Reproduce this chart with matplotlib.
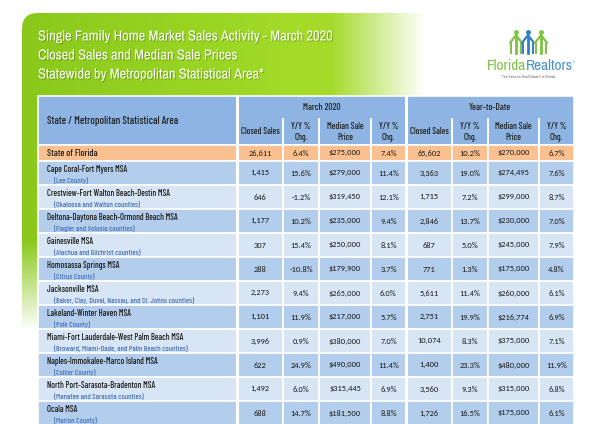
import numpy as np
import matplotlib
matplotlib.use("Agg")
import matplotlib.pyplot as plt
from matplotlib.patches import Rectangle, FancyBboxPatch
import matplotlib.patheffects as pe

# ---- data ----
areas = ["State of Florida", "Cape Coral-Fort Myers MSA",
         "Crestview-Fort Walton Beach-Destin MSA",
         "Deltona-Daytona Beach-Ormond Beach MSA", "Gainesville MSA",
         "Homosassa Springs MSA", "Jacksonville MSA",
         "Lakeland-Winter Haven MSA",
         "Miami-Fort Lauderdale-West Palm Beach MSA",
         "Naples-Immokalee-Marco Island MSA",
         "North Port-Sarasota-Bradenton MSA", "Ocala MSA"]
counties = ["", "(Lee County)", "(Okaloosa and Walton counties)",
            "(Flagler and Volusia counties)", "(Alachua and Gilchrist counties)",
            "(Citrus County)",
            "(Baker, Clay, Duval, Nassau, and St. Johns counties)",
            "(Polk County)", "(Broward, Miami-Dade, and Palm Beach counties)",
            "(Collier County)", "(Manatee and Sarasota counties)",
            "(Marion County)"]
mar_sales = [26611, 1415, 646, 1177, 307, 288, 2273, 1101, 3996, 622, 1492, 688]
mar_sales_chg = [6.4, 15.6, -1.2, 10.2, 15.4, -10.8, 9.4, 11.9, 0.9, 24.9, 6.0, 14.7]
mar_price = [275000, 279000, 319450, 235000, 250000, 179900, 265000, 217000,
             380000, 490000, 315445, 181500]
mar_price_chg = [7.4, 11.4, 12.1, 9.4, 8.1, 3.7, 6.0, 5.7, 7.0, 11.4, 6.9, 8.8]
ytd_sales = [65602, 3363, 1715, 2846, 687, 771, 5611, 2751, 10074, 1400, 3560, 1726]
ytd_sales_chg = [10.2, 19.0, 7.2, 13.7, 5.0, 1.3, 11.4, 19.9, 8.3, 23.3, 9.3, 16.5]
ytd_price = [270000, 274495, 299000, 230000, 245000, 175000, 260000, 216774,
             375000, 480000, 315000, 175000]
ytd_price_chg = [6.7, 7.6, 8.7, 7.0, 7.9, 4.8, 6.1, 6.9, 7.1, 11.9, 6.8, 6.1]

title_lines = ["Single Family Home Market Sales Activity - March 2020",
               "Closed Sales and Median Sale Prices",
               "Statewide by Metropolitan Statistical Area*"]
group_labels = ["March 2020", "Year-to-Date"]
sub_labels = ["Closed Sales", "Y/Y %\nChg.", "Median Sale\nPrice", "Y/Y %\nChg."]

NARROW = ["Archivo Narrow", "DejaVu Sans"]
COND = ["Barlow Condensed", "Archivo Narrow", "DejaVu Sans"]
NUMF = ["Carlito", "Lato", "DejaVu Sans"]

HEAD = "#8db4e2"
DARK = "#b3cdec"
LIGHT = "#d8e5f4"
ORANGE = "#fbc08f"

fig = plt.figure(figsize=(6, 4.24), dpi=100)
ax = fig.add_axes([0, 0, 1, 1])
ax.axis("off")
ax.set_xlim(0, 600)
ax.set_ylim(424, 0)
renderer = fig.canvas.get_renderer()


def fit_size(sample, width, family, **kw):
    # font size that makes `sample` about `width` pixels wide
    probe = ax.text(0, 0, sample, fontsize=10, family=family, **kw)
    w = probe.get_window_extent(renderer).width
    probe.remove()
    return 10 * width / w


fs_title = fit_size(title_lines[0], 296, NARROW)
fs_name = fit_size("Crestview-Fort Walton Beach-Destin MSA", 123, COND, weight=500)
fs_county = fit_size("(Baker, Clay, Duval, Nassau, and St. Johns counties)", 139,
                     COND, weight=500)
fs_head = fit_size("State / Metropolitan Statistical Area", 131, COND, weight=500)
fs_group = fit_size("Year-to-Date", 42, COND, weight=500)
fs_sub = fit_size("Closed Sales", 39, COND, weight=500)
fs_num = fit_size("$275,000", 32, NUMF)

# ---- green background panel, fades right and down ----
W, H = 600, 424
xs = np.arange(W)
ys = np.arange(H)
hfade = np.clip((425 - xs) / 95.0, 0, 1)
vfade = np.clip((330 - ys) / 90.0, 0, 1)
alpha = np.outer(vfade, hfade)
c1 = np.array([0.53, 0.78, 0.10])
c2 = np.array([0.64, 0.86, 0.16])
t = np.clip(xs / 300.0, 0, 1)[None, :, None]
rgb = c1 * (1 - t) + c2 * t
img = np.zeros((H, W, 4))
img[..., :3] = rgb
img[..., 3] = alpha
clip = FancyBboxPatch((22, 13), 620, 460, boxstyle="round,pad=0,rounding_size=16",
                      transform=ax.transData, facecolor="none", edgecolor="none")
ax.add_patch(clip)
im = ax.imshow(img, extent=(0, W, H, 0), zorder=0, interpolation="bilinear")
im.set_clip_path(clip)
ax.set_xlim(0, 600)
ax.set_ylim(424, 0)

# ---- title ----
for i, line in enumerate(title_lines):
    ax.text(38, 36.5 + i * 19, line, color="white", fontsize=fs_title,
            family=NARROW, va="center", ha="left", zorder=5,
            path_effects=[pe.withSimplePatchShadow(offset=(0.7, -0.7),
                                                   shadow_rgbFace="#3d6b00",
                                                   alpha=0.45)])

# ---- logo ----
t1 = ax.text(487, 66, "Florida", color="#7dc242", fontsize=11, family=NARROW,
             va="center", ha="left", zorder=5)
bb = t1.get_window_extent(renderer).transformed(ax.transData.inverted())
x_end = max(bb.x0, bb.x1)
ax.text(x_end, 66, "Realtors", color="#4a8fcf", fontsize=11, family=NARROW,
        va="center", ha="left", zorder=5)
ax.text(572, 62, "\u00ae", color="#4a8fcf", fontsize=2.5, va="center", zorder=5)
ax.text(529, 77, "The Voice for Real Estate\u00ae in Florida", color="#666666",
        fontsize=2.8, family=NARROW, ha="center", va="center", zorder=5)
for cx, col in [(516, "#7dc242"), (528, "#2f7fc4"), (541, "#7dc242")]:
    ax.plot([cx - 6, cx, cx + 6], [43, 35, 43], color=col, lw=1.6,
            solid_capstyle="round", zorder=5)
    ax.plot([cx, cx], [38, 53], color=col, lw=2.0, zorder=5)
    ax.plot([cx - 5, cx - 5], [44, 53], color=col, lw=1.4, zorder=5)
    ax.plot([cx + 5, cx + 5], [44, 53], color=col, lw=1.4, zorder=5)
    ax.plot(cx, 32, "o", color=col, ms=2.5, zorder=5)

# ---- table geometry ----
xe = [38, 237, 283, 319, 371, 406, 452, 488, 539, 574]
head_top, head_mid, head_bot = 96, 119, 145
fl_bot = 161
row_h = 24


def cell(x0, y0, x1, y1, fc, lw=1.2):
    ax.add_patch(Rectangle((x0, y0), x1 - x0, y1 - y0, facecolor=fc,
                           edgecolor="white", lw=lw, zorder=2))


# header
cell(xe[0], head_top, xe[1], head_bot, HEAD)
ax.text(47, 121, "State / Metropolitan Statistical Area", fontsize=fs_head,
        family=COND, weight=500, color="#222222", va="center", zorder=4)
for g in range(2):
    x0, x1 = xe[1 + 4 * g], xe[5 + 4 * g]
    cell(x0, head_top, x1, head_bot, HEAD)
    ax.text((x0 + x1) / 2, 107, group_labels[g], fontsize=fs_group, family=COND,
            weight=500, color="#222222", ha="center", va="center", zorder=4)
    for k in range(4):
        a, b = xe[1 + 4 * g + k], xe[2 + 4 * g + k]
        if k > 0:
            ax.plot([a, a], [head_mid, head_bot], color="white", lw=1.4, zorder=3)
        ax.text((a + b) / 2, 132, sub_labels[k], fontsize=fs_sub, family=COND,
                weight=500, color="#222222", ha="center", va="center",
                linespacing=1.25, zorder=4)

# rows
cols = [mar_sales, mar_sales_chg, mar_price, mar_price_chg,
        ytd_sales, ytd_sales_chg, ytd_price, ytd_price_chg]
fmts = ["{:,}", "{:.1f}%", "${:,}", "{:.1f}%"] * 2
for r in range(len(areas)):
    if r == 0:
        y0, y1, fc = head_bot, fl_bot, ORANGE
    else:
        y0 = fl_bot + (r - 1) * row_h
        y1 = y0 + row_h
        fc = DARK if r % 2 == 1 else LIGHT
    ym = (y0 + y1) / 2
    cell(xe[0], y0, xe[1], y1, fc)
    if counties[r]:
        ax.text(47, y0 + 8, areas[r], fontsize=fs_name, family=COND, weight=500,
                color="#1a1a1a", va="center", zorder=4)
        ax.text(54, y0 + 19, counties[r], fontsize=fs_county, family=COND,
                weight=500, color="#4a76b6", va="center", zorder=4)
    else:
        ax.text(47, ym, areas[r], fontsize=fs_name * 1.1, family=COND,
                weight=500, color="#1a1a1a", va="center", zorder=4)
    for c in range(8):
        cell(xe[1 + c], y0, xe[2 + c], y1, fc)
        ax.text((xe[1 + c] + xe[2 + c]) / 2, ym, fmts[c].format(cols[c][r]),
                fontsize=fs_num, family=NUMF, color="#1a1a1a", ha="center",
                va="center", zorder=4)

# thicker separators between groups
for x in [xe[1], xe[5]]:
    ax.plot([x, x], [head_top, 424], color="white", lw=2.2, zorder=3)

fig.savefig("out.png", dpi=100)
